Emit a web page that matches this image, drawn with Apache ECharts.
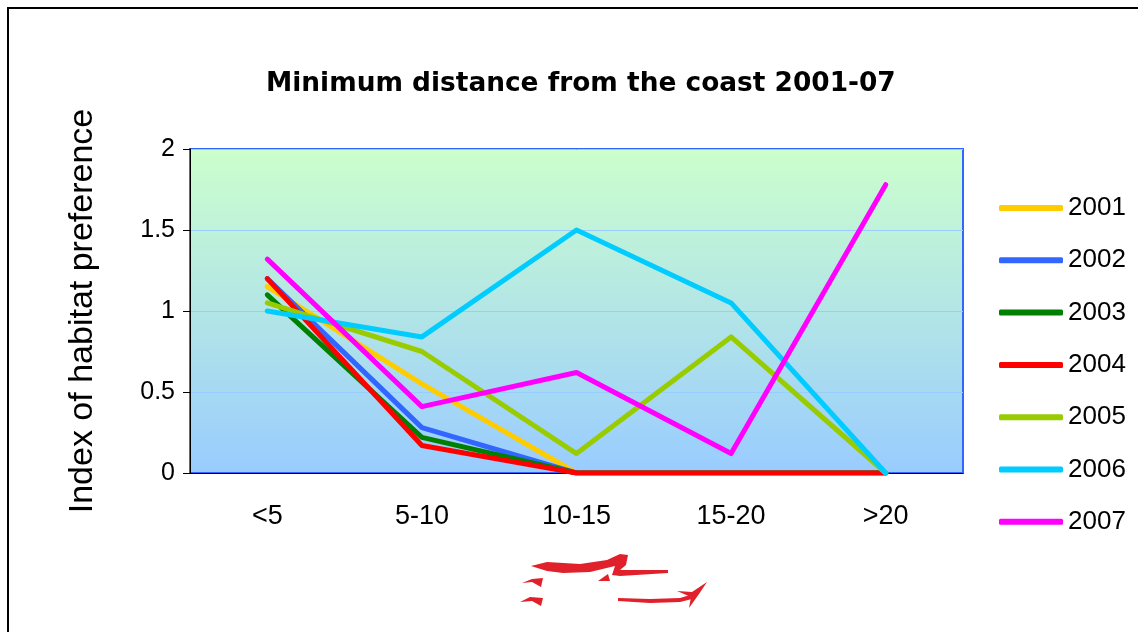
<!DOCTYPE html>
<html>
<head>
<meta charset="utf-8">
<script src="https://cdn.jsdelivr.net/npm/echarts@6/dist/echarts.min.js"></script>
<style>
html,body{margin:0;padding:0;background:#fff;}
#chart{width:1138px;height:632px;}
</style>
</head>
<body>
<div id="chart"></div>
<script>
const categories = ['<5', '5-10', '10-15', '15-20', '>20'];
const seriesNames = ['2001', '2002', '2003', '2004', '2005', '2006', '2007'];
const v2001 = [1.15, 0.55, 0, 0, 0];
const v2002 = [1.2, 0.28, 0, 0, 0];
const v2003 = [1.1, 0.22, 0, 0, 0];
const v2004 = [1.2, 0.17, 0, 0, 0];
const v2005 = [1.05, 0.75, 0.12, 0.84, 0];
const v2006 = [1.0, 0.84, 1.5, 1.05, 0];
const v2007 = [1.32, 0.41, 0.62, 0.12, 1.78];
const seriesValues = [v2001, v2002, v2003, v2004, v2005, v2006, v2007];
const colors = ['#FFCC00', '#3366FF', '#008000', '#FF0000', '#99CC00', '#00CCFF', '#FF00FF'];

const chart = echarts.init(document.getElementById('chart'));
const red = '#E0202A';
function logo(points, smooth) {
  return {type: 'polygon', shape: {points: points, smooth: smooth}, style: {fill: red}, silent: true};
}
chart.setOption({
  animation: false,
  title: {
    text: 'Minimum distance from the coast 2001-07',
    left: 261, top: 66,
    textStyle: {fontFamily: 'DejaVu Sans', fontWeight: 'bold', fontSize: 26.4, color: '#000'}
  },
  legend: {
    orient: 'vertical', left: 999, top: 195, padding: 0,
    itemWidth: 64, itemHeight: 6, itemGap: 26.3,
    icon: 'roundRect',
    textStyle: {fontFamily: 'Liberation Sans', fontSize: 26, color: '#000', lineHeight: 26},
    data: seriesNames
  },
  grid: {
    left: 190, top: 149, right: 175, bottom: 159, show: true,
    borderColor: '#3366FF', borderWidth: 2,
    backgroundColor: {
      type: 'linear', x: 0, y: 0, x2: 0, y2: 1,
      colorStops: [{offset: 0, color: '#CCFFCC'}, {offset: 1, color: '#99CCFF'}]
    }
  },
  xAxis: {
    type: 'category', data: categories, boundaryGap: true,
    axisLine: {lineStyle: {color: '#000', width: 1}},
    axisTick: {length: 8, lineStyle: {color: '#000'}},
    axisLabel: {fontFamily: 'Liberation Sans', fontSize: 27, color: '#000', margin: 30}
  },
  yAxis: {
    type: 'value', min: 0, max: 2, interval: 0.5,
    name: 'Index of habitat preference', nameLocation: 'middle', nameGap: 90,
    nameTextStyle: {fontFamily: 'Liberation Sans', fontSize: 34, color: '#000'},
    axisLine: {show: true, lineStyle: {color: '#000', width: 1}},
    axisTick: {show: true, length: 7, lineStyle: {color: '#000'}},
    axisLabel: {fontFamily: 'Liberation Sans', fontSize: 25, color: '#000', margin: 15},
    splitLine: {lineStyle: {color: '#99CCFF', width: 1}}
  },
  series: seriesNames.map((n, i) => ({
    name: n, type: 'line', data: seriesValues[i],
    showSymbol: false, symbol: 'none',
    itemStyle: {color: colors[i]},
    lineStyle: {color: colors[i], width: 5, cap: 'round', join: 'round'},
    z: 3 + i
  })),
  graphic: [
    {type: 'rect', shape: {x: 8, y: 8, width: 1200, height: 700}, style: {fill: 'none', stroke: '#000', lineWidth: 2}, silent: true, z: 100},
    logo([[531,566],[547,562],[580,564],[607,560],[620,554],[628,555],[626,565],[620,570],[668,570],[668,573],[620,576],[612,575],[615,566],[590,572],[563,573],[547,571]], 0),
    logo([[598,581],[608,574],[610,581]], 0),
    logo([[522,583],[532,579],[543,578],[541,587],[532,582]], 0),
    logo([[520,602],[530,597],[543,598],[541,606],[532,601]], 0),
    logo([[618,598],[650,599],[680,598],[690,595],[692,599],[680,602],[650,603],[618,601]], 0),
    logo([[677,591],[692,592],[707,582],[699,594],[689,608],[691,597]], 0)
  ]
});
</script>
</body>
</html>
